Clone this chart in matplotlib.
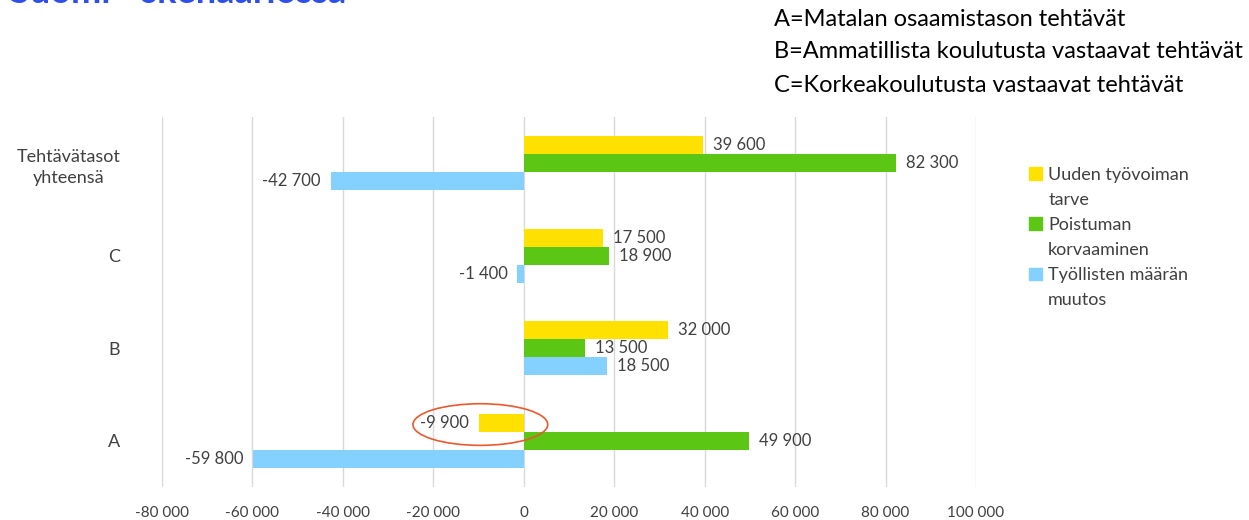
import matplotlib.pyplot as plt
from matplotlib.patches import Ellipse, Patch

plt.rcParams['font.family'] = ['Lato', 'DejaVu Sans']

categories = ['A', 'B', 'C', 'Tehtävätasot\nyhteensä']
uusi_tarve = [-9900, 32000, 17500, 39600]
poistuma = [49900, 13500, 18900, 82300]
tyolliset = [-59800, 18500, -1400, -42700]
series_names = ['Uuden työvoiman\ntarve', 'Poistuman\nkorvaaminen', 'Työllisten määrän\nmuutos']
xticks = list(range(-80000, 100001, 20000))

colors = ['#FFE100', '#5BC714', '#84D0FF']
text_col = '#404040'


def fmt(v):
    s = f"{abs(v):,}".replace(',', ' ')
    return ('-' if v < 0 else '') + s


fig = plt.figure(figsize=(12.49, 5.2), dpi=100)
ax = fig.add_axes([0.1297, 0.0635, 0.6517, 0.7115])

h = 0.195
y = list(range(len(categories)))
series = [uusi_tarve, poistuma, tyolliset]
offsets = [h, 0, -h]
for vals, off, col in zip(series, offsets, colors):
    pos = [i + off for i in y]
    ax.barh(pos, vals, height=h, color=col, zorder=3)
    for p, v in zip(pos, vals):
        ax.annotate(fmt(v), (v, p), xytext=(7 if v > 0 else -7, 0),
                    textcoords='offset points', va='center',
                    ha='left' if v > 0 else 'right',
                    fontsize=12, color=text_col)

ax.set_xlim(-80000, 100000)
ax.set_ylim(-0.5, len(categories) - 0.5)
ax.set_xticks(xticks)
ax.set_xticklabels([fmt(t) for t in xticks], fontsize=11, color=text_col)
ax.set_yticks(y)
ax.set_yticklabels(categories, fontsize=13, color=text_col, multialignment='center',
                   linespacing=1.4)
ax.tick_params(axis='y', length=0, pad=30)
ax.tick_params(axis='x', length=0, pad=14)
ax.grid(axis='x', color='#D9D9D9', linewidth=1, zorder=0)
for s in ax.spines.values():
    s.set_visible(False)

# ring around the negative value in group A
ax.add_patch(Ellipse((-9600, 0.175), 29800, 0.45, fill=False,
                     edgecolor='#E8592F', linewidth=1.2, zorder=4))

# legend: square only beside the first line of each entry
handles, labels = [], []
for name, c in zip(series_names, colors):
    for k, line in enumerate(name.split('\n')):
        handles.append(Patch(color=c) if k == 0 else Patch(color='none'))
        labels.append(line)
fig.legend(handles, labels, loc='upper left', bbox_to_anchor=(0.811, 0.71),
           frameon=False, fontsize=13, labelcolor=text_col,
           handlelength=0.7, handleheight=0.7, handletextpad=0.35, labelspacing=0.5)

fig.text(0.62, 1 - 20 / 520, 'A=Matalan osaamistason tehtävät', fontsize=17, va='center')
fig.text(0.62, 1 - 52 / 520, 'B=Ammatillista koulutusta vastaavat tehtävät', fontsize=17, va='center')
fig.text(0.62, 1 - 86 / 520, 'C=Korkeakoulutusta vastaavat tehtävät', fontsize=17, va='center')

fig.text(0.008, 1 - 3 / 520, 'Suomi - skenaariossa', fontsize=26, fontweight='bold',
         color='#2E4FE8', va='baseline')

fig.savefig('out.png', dpi=100)
